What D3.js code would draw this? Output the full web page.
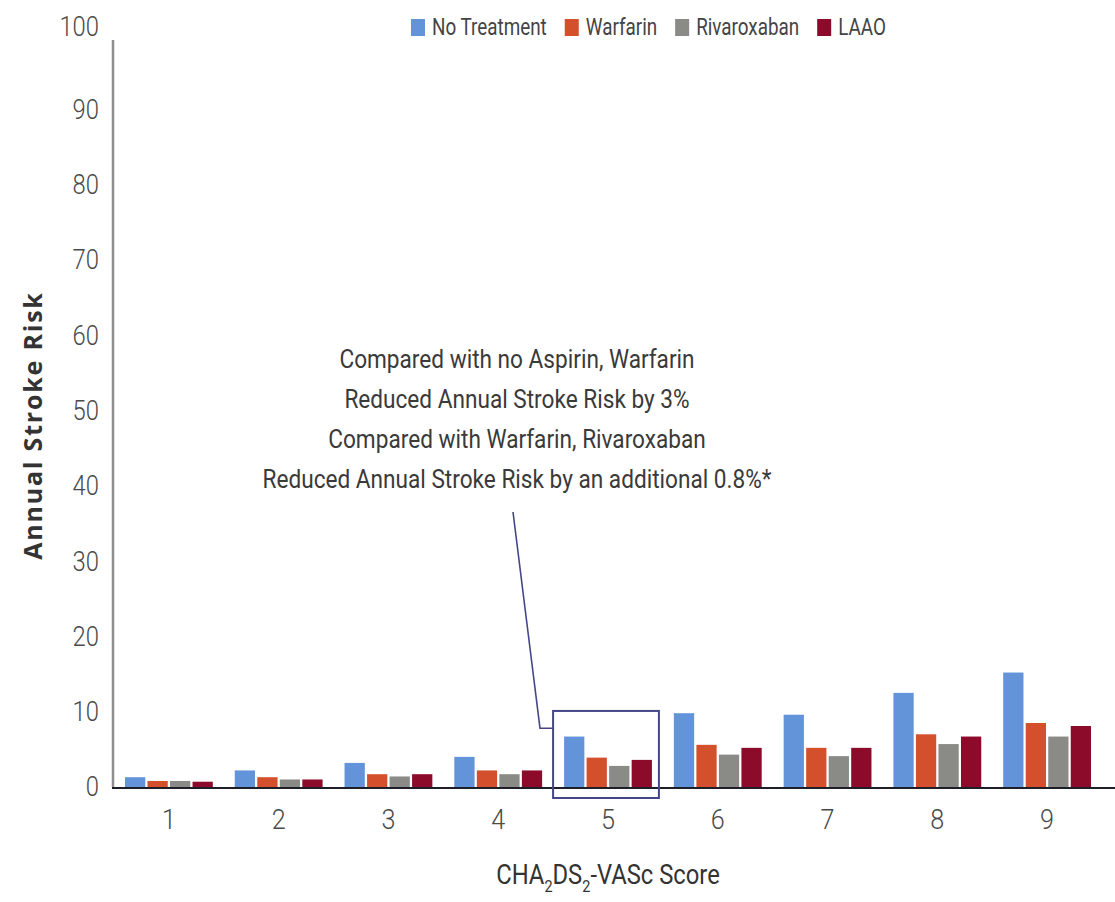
<!DOCTYPE html>
<html>
<head>
<meta charset="utf-8">
<script src="https://cdn.jsdelivr.net/npm/d3@7"></script>
<style>
  body { margin: 0; background: #fff; }
  svg { display: block; }
  .narrow { font-family: "Roboto", "DejaVu Sans Condensed", sans-serif; font-weight: 300; }
  .narrow.regular { font-weight: 400; }
</style>
</head>
<body>
<svg id="chart" width="1115" height="902"></svg>
<script>
// CHA2DS2-VASc score categories
const scores = ["1", "2", "3", "4", "5", "6", "7", "8", "9"];
const seriesNames = ["No Treatment", "Warfarin", "Rivaroxaban", "LAAO"];
const seriesColors = ["#6393d8", "#d4502d", "#8a8b87", "#8c0b2b"];

// Annual stroke risk (%) by score
const noTreatment = [1.3, 2.2, 3.2, 4.0, 6.7, 9.8, 9.6, 12.5, 15.2];
const warfarin    = [0.8, 1.3, 1.7, 2.2, 3.9, 5.6, 5.2, 7.0, 8.5];
const rivaroxaban = [0.8, 1.0, 1.4, 1.7, 2.8, 4.3, 4.1, 5.7, 6.7];
const laao        = [0.7, 1.0, 1.7, 2.2, 3.6, 5.2, 5.2, 6.7, 8.1];

const yTicks = [0, 10, 20, 30, 40, 50, 60, 70, 80, 90, 100];
const highlightScore = "5";
const annotationLines = [
  "Compared with no Aspirin, Warfarin",
  "Reduced Annual Stroke Risk by 3%",
  "Compared with Warfarin, Rivaroxaban",
  "Reduced Annual Stroke Risk by an additional 0.8%*"
];

const seriesValues = [noTreatment, warfarin, rivaroxaban, laao];
const rows = scores.map((s, i) => ({
  score: s,
  values: seriesNames.map((name, k) => ({ name, value: seriesValues[k][i], color: seriesColors[k] }))
}));

const svg = d3.select("#chart");

// squeeze a label horizontally after its own transform
function condense(sel, factor) {
  sel.each(function () {
    const el = d3.select(this);
    const base = el.attr("transform") || "";
    el.attr("transform", `${base} scale(${factor},1)`);
  });
}

const x = d3.scaleBand().domain(scores).range([114, 1102]).paddingInner(0.2).paddingOuter(0.1);
const xs = d3.scaleBand().domain(seriesNames).range([0, x.bandwidth()]).paddingInner(0.1);
const y = d3.scaleLinear().domain([0, 100]).range([787, 34]);

// bars
const groups = svg.append("g").selectAll("g")
  .data(rows).join("g")
  .attr("transform", d => `translate(${x(d.score)},0)`);
groups.selectAll("rect")
  .data(d => d.values).join("rect")
  .attr("x", d => xs(d.name))
  .attr("width", xs.bandwidth())
  .attr("y", d => y(d.value))
  .attr("height", d => y(0) - y(d.value))
  .attr("fill", d => d.color);

// y axis
const yAxis = svg.append("g")
  .attr("transform", "translate(112,0)")
  .call(d3.axisLeft(y).tickValues(yTicks).tickSize(0).tickPadding(0));
yAxis.select(".domain").remove();
yAxis.selectAll("text")
  .attr("class", "narrow")
  .attr("x", 0)
  .attr("transform", d => `translate(-13,${d === 100 ? -7 : 0})`)
  .attr("font-size", 28)
  .attr("fill", "#4a4a4a")
  .call(condense, 0.85);
svg.append("line")
  .attr("x1", 113).attr("x2", 113)
  .attr("y1", 40).attr("y2", y(0))
  .attr("stroke", "#8f8f8f").attr("stroke-width", 2.5);

// x axis
const xAxis = svg.append("g")
  .attr("transform", `translate(0,${y(0)})`)
  .call(d3.axisBottom(x).tickSize(0).tickPadding(0));
xAxis.select(".domain").remove();
xAxis.selectAll("text")
  .attr("class", "narrow")
  .attr("y", 0)
  .attr("dy", 0)
  .attr("transform", "translate(0,42)")
  .attr("font-size", 28)
  .attr("fill", "#4a4a4a")
  .call(condense, 0.9);
svg.append("line")
  .attr("x1", 112).attr("x2", 1115)
  .attr("y1", y(0) + 1).attr("y2", y(0) + 1)
  .attr("stroke", "#1e1e28").attr("stroke-width", 2);

// y axis title
svg.append("text")
  .attr("transform", `translate(42,${y(48)}) rotate(-90)`)
  .attr("text-anchor", "middle")
  .attr("font-family", "'Open Sans', sans-serif")
  .attr("font-weight", 700)
  .attr("font-size", 25)
  .attr("letter-spacing", 1.8)
  .attr("fill", "#333")
  .text("Annual Stroke Risk");

// x axis title with subscripts
const xTitle = svg.append("text")
  .attr("class", "narrow regular")
  .attr("transform", `translate(${x(highlightScore) + x.bandwidth() / 2},884)`)
  .attr("text-anchor", "middle")
  .attr("font-size", 28)
  .attr("fill", "#333")
  .call(condense, 0.85);
xTitle.append("tspan").text("CHA");
xTitle.append("tspan").attr("font-size", 17).attr("dy", 8).text("2");
xTitle.append("tspan").attr("dy", -8).text("DS");
xTitle.append("tspan").attr("font-size", 17).attr("dy", 8).text("2");
xTitle.append("tspan").attr("dy", -8).text("-VASc Score");

// highlight box around score 5
const bx0 = x(highlightScore) - 11;
const bx1 = x(highlightScore) + x.bandwidth() + 7;
svg.append("rect")
  .attr("x", bx0).attr("y", y(10.1))
  .attr("width", bx1 - bx0).attr("height", y(0) + 11 - y(10.1))
  .attr("fill", "none")
  .attr("stroke", "#45468a").attr("stroke-width", 2);

// leader line from the note to the box
const boxMidY = y(7.8);
svg.append("path")
  .attr("d", d3.line()([[513, 512], [540, boxMidY], [bx0, boxMidY]]))
  .attr("fill", "none")
  .attr("stroke", "#45468a").attr("stroke-width", 1.6);

// annotation text
svg.append("g").selectAll("text")
  .data(annotationLines).join("text")
  .attr("class", "narrow regular")
  .attr("transform", (d, i) => `translate(517,${368 + i * 40})`)
  .attr("text-anchor", "middle")
  .attr("font-size", 26)
  .attr("fill", "#3a3a3a")
  .text(d => d)
  .call(condense, 0.87);

// legend
const legendSqueeze = 0.82;
const legend = svg.append("g").attr("transform", "translate(411,0)");
let lx = 0;
seriesNames.forEach((name, k) => {
  legend.append("rect")
    .attr("x", lx).attr("y", 19)
    .attr("width", 14).attr("height", 17)
    .attr("fill", seriesColors[k]);
  const t = legend.append("text")
    .attr("class", "narrow regular")
    .attr("transform", `translate(${lx + 21},35) scale(${legendSqueeze},1)`)
    .attr("font-size", 23)
    .attr("fill", "#444")
    .text(name);
  lx += 21 + t.node().getComputedTextLength() * legendSqueeze + 18;
});
</script>
</body>
</html>
